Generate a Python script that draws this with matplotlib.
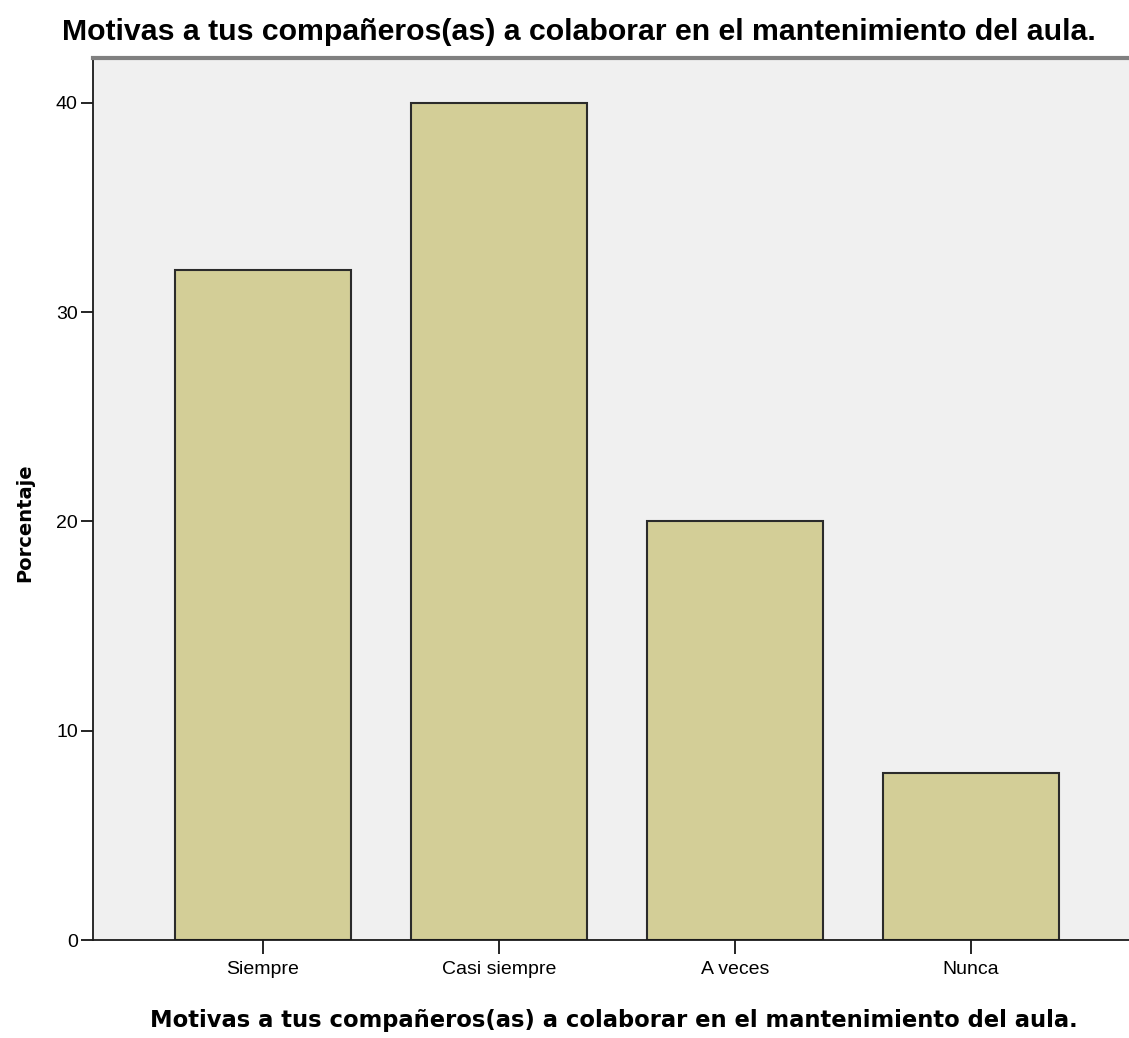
import matplotlib
matplotlib.use("Agg")
import matplotlib.pyplot as plt

categories = ["Siempre", "Casi siempre", "A veces", "Nunca"]
percentages = [32, 40, 20, 8]
y_ticks = [0, 10, 20, 30, 40]
title = "Motivas a tus compañeros(as) a colaborar en el mantenimiento del aula."

arial = ["Liberation Sans", "DejaVu Sans"]

fig = plt.figure(figsize=(11.29, 10.38), dpi=100)
ax = fig.add_axes([0.0824, 0.0944, 0.9176, 0.8496])
ax.set_facecolor("#f0f0f0")

x = list(range(len(categories)))
ax.bar(x, percentages, width=0.746, color="#d3ce97", edgecolor="#2b2b2b", linewidth=1.5, zorder=2)

ax.set_xlim(-0.72, 3.67)
ax.set_ylim(0, 42.14)
ax.set_xticks(x)
ax.set_xticklabels(categories, family=arial, fontsize=14)
ax.set_yticks(y_ticks)
ax.set_yticklabels([str(v) for v in y_ticks], family=arial, fontsize=14)
ax.tick_params(axis="x", length=10, width=1.2, pad=5)
ax.tick_params(axis="y", length=9, width=1.2, pad=2)

for s in ["left", "bottom"]:
    ax.spines[s].set_linewidth(1.3)
    ax.spines[s].set_color("#1a1a1a")
ax.spines["right"].set_visible(False)
ax.spines["top"].set_color("#808080")
ax.spines["top"].set_linewidth(3)

fig.text(25 / 1129, 1 - 523 / 1038, "Porcentaje", fontsize=14, fontweight="bold",
         rotation=90, ha="center", va="center")
fig.text(614 / 1129, 1 - 1020 / 1038, title, fontsize=16.3, fontweight="bold",
         ha="center", va="center")
fig.text(62 / 1129, 1 - 32 / 1038, title, fontsize=21.8, fontweight="bold", family=arial,
         va="center", ha="left")

fig.savefig("out.png", dpi=100)
